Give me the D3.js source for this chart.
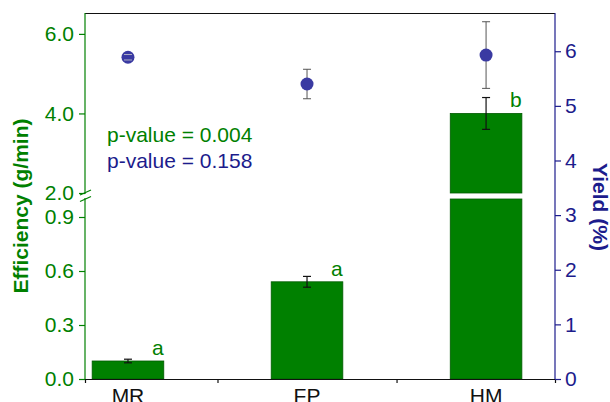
<!DOCTYPE html>
<html><head><meta charset="utf-8">
<script src="https://cdn.jsdelivr.net/npm/d3@7"></script>
<style>body{margin:0;background:#fff}svg{display:block}text{font-family:Arial,"Liberation Sans",sans-serif}</style>
</head><body>
<svg id="c" width="610" height="402"></svg>
<script>
const categories = ["MR","FP","HM"];
const efficiency = [0.10, 0.54, 4.0];
const efficiencyErr = [0.01, 0.03, 0.4];
const letters = ["a","a","b"];
const yieldVals = [5.89, 5.40, 5.93];
const yieldErr = [0.05, 0.27, 0.61];
const leftTicksLow = [0.0, 0.3, 0.6, 0.9];
const leftTicksHigh = [2.0, 4.0, 6.0];
const rightTicks = [0,1,2,3,4,5,6];
const pTexts = ["p-value = 0.004","p-value = 0.158"];

const GREEN="#008000", NAVY="#1c1c8c", DOT="#3a3aa2";
const FS=21;
const svg=d3.select("#c");
const L=85,R=555,T=13,B=379;
const x=d3.scaleLinear().domain([-0.24,2.385]).range([L,R]);
const yLow=d3.scaleLinear().domain([0,1]).range([B,199]);
const yHigh=d3.scaleLinear().domain([2,6.5]).range([193,14]);
const yR=d3.scaleLinear().domain([0,6.7]).range([B,T]);
const yE=v=>v<=1?yLow(v):yHigh(v);
const bw=x(0.4)-x(0);

// bars
categories.forEach((c,i)=>{
  const v=efficiency[i];
  const bar=(y0,y1)=>svg.append("rect").attr("x",x(i)-bw/2).attr("y",y1).attr("width",bw).attr("height",y0-y1)
      .attr("fill",GREEN).attr("stroke","#005a00").attr("stroke-width",0.8);
  if(v<=1){ bar(B,yLow(v)); }
  else { bar(B,yLow(1)); bar(yHigh(2),yHigh(v)); }
  const y1=yE(v+efficiencyErr[i]), y2=yE(v-efficiencyErr[i]);
  const g=svg.append("g").attr("stroke","#111").attr("stroke-width",1.2);
  g.append("line").attr("x1",x(i)).attr("x2",x(i)).attr("y1",y1).attr("y2",y2);
  g.append("line").attr("x1",x(i)-4).attr("x2",x(i)+4).attr("y1",y1).attr("y2",y1);
  g.append("line").attr("x1",x(i)-4).attr("x2",x(i)+4).attr("y1",y2).attr("y2",y2);
  svg.append("text").attr("x",x(i)+bw/2-6).attr("y",yE(v)-6).attr("text-anchor","middle")
    .attr("font-size",FS).attr("fill",GREEN).text(letters[i]);
});

// yield points
categories.forEach((c,i)=>{
  const y1=yR(yieldVals[i]+yieldErr[i]), y2=yR(yieldVals[i]-yieldErr[i]);
  const g=svg.append("g").attr("stroke","#555").attr("stroke-width",1);
  g.append("line").attr("x1",x(i)).attr("x2",x(i)).attr("y1",y1).attr("y2",y2);
  g.append("line").attr("x1",x(i)-4).attr("x2",x(i)+4).attr("y1",y1).attr("y2",y1);
  g.append("line").attr("x1",x(i)-4).attr("x2",x(i)+4).attr("y1",y2).attr("y2",y2);
  svg.append("circle").attr("cx",x(i)).attr("cy",yR(yieldVals[i])).attr("r",6.5).attr("fill",DOT);
  if(yieldErr[i]<0.1){
    svg.append("line").attr("x1",x(i)-4).attr("x2",x(i)+4).attr("y1",y1).attr("y2",y1).attr("stroke","#ccc").attr("stroke-width",0.8);
    svg.append("line").attr("x1",x(i)-4).attr("x2",x(i)+4).attr("y1",y2).attr("y2",y2).attr("stroke","#ccc").attr("stroke-width",0.8);
  }
});

// frame top
svg.append("line").attr("x1",L).attr("x2",R).attr("y1",T+0.5).attr("y2",T+0.5).attr("stroke","#111").attr("stroke-width",1.2);

// bottom axis
const bx=svg.append("g").attr("transform",`translate(0,${B})`)
  .call(d3.axisBottom(x).tickValues([0.5,1.5]).tickSize(4).tickFormat(""));
bx.select(".domain").attr("stroke","#111").attr("stroke-width",1.2);
bx.selectAll(".tick line").attr("stroke","#111").attr("stroke-width",1.2);
categories.forEach((c,i)=>{
  svg.append("text").attr("x",x(i)).attr("y",403).attr("text-anchor","middle").attr("font-size",FS).attr("fill","#111").text(c);
});

// left axis (two segments)
function styleLeft(g){
  g.select(".domain").remove();
  g.selectAll(".tick line").attr("stroke",GREEN).attr("stroke-width",1.2);
  g.selectAll(".tick text").attr("fill",GREEN).attr("font-size",FS).attr("font-family","Arial,'Liberation Sans',sans-serif");
}
const gl1=svg.append("g").attr("transform",`translate(${L},0)`)
  .call(d3.axisLeft(yLow).tickValues(leftTicksLow).tickFormat(d3.format(".1f")).tickSize(6).tickPadding(5));
styleLeft(gl1);
const gl2=svg.append("g").attr("transform",`translate(${L},0)`)
  .call(d3.axisLeft(yHigh).tickValues(leftTicksHigh).tickFormat(d3.format(".1f")).tickSize(6).tickPadding(5));
styleLeft(gl2);
svg.append("line").attr("x1",L).attr("x2",L).attr("y1",B).attr("y2",198).attr("stroke",GREEN).attr("stroke-width",1.2);
svg.append("line").attr("x1",L).attr("x2",L).attr("y1",194).attr("y2",T).attr("stroke",GREEN).attr("stroke-width",1.2);
[192.5,199].forEach(yy=>{
  svg.append("line").attr("x1",L-5).attr("x2",L+6).attr("y1",yy+2.5).attr("y2",yy-2.5).attr("stroke",GREEN).attr("stroke-width",1.2);
});

// right axis
const gr=svg.append("g").attr("transform",`translate(${R},0)`)
  .call(d3.axisRight(yR).tickValues(rightTicks).tickFormat(d3.format("d")).tickSize(6).tickPadding(4));
gr.select(".domain").attr("stroke",NAVY).attr("stroke-width",1.2).attr("d",`M0,${B}V${T}`);
gr.selectAll(".tick line").attr("stroke",NAVY).attr("stroke-width",1.2);
gr.selectAll(".tick text").attr("fill",NAVY).attr("font-size",FS).attr("font-family","Arial,'Liberation Sans',sans-serif");

// titles
svg.append("text").attr("transform","translate(28,206) rotate(-90)").attr("text-anchor","middle")
  .attr("font-size",FS).attr("font-weight","bold").attr("fill",GREEN).text("Efficiency (g/min)");
svg.append("text").attr("transform","translate(593,207) rotate(90)").attr("text-anchor","middle")
  .attr("font-size",FS).attr("font-weight","bold").attr("fill",NAVY).text("Yield (%)");

// p-values
svg.append("text").attr("x",107).attr("y",142).attr("font-size",FS).attr("fill",GREEN).text(pTexts[0]);
svg.append("text").attr("x",107).attr("y",168).attr("font-size",FS).attr("fill",NAVY).text(pTexts[1]);
</script>
</body></html>
